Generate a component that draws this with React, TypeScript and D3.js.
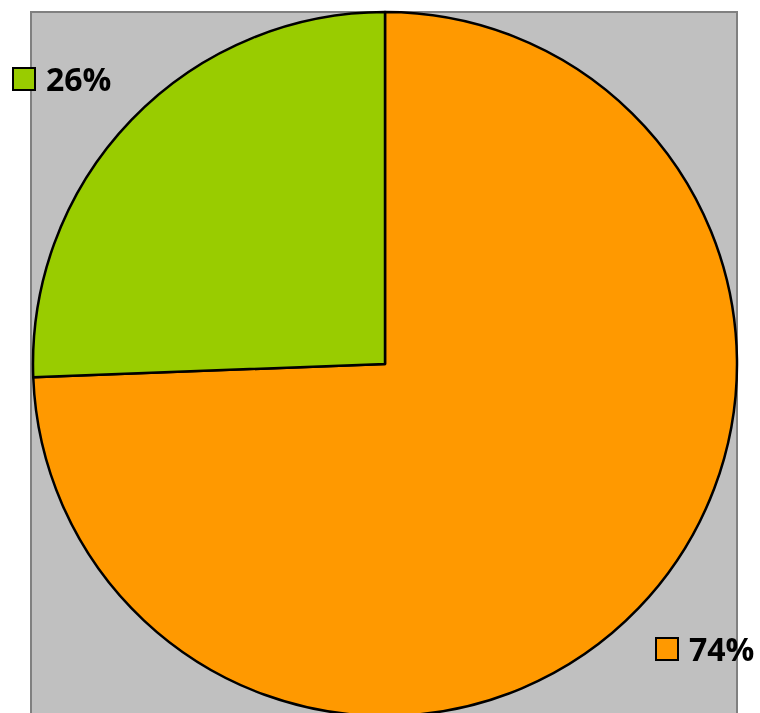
import React, { useEffect, useRef } from 'react';
import * as d3 from 'd3';

// slices (orange first, clockwise from 12 o'clock)
const categories = ['A', 'B'];
const values = [74.4, 25.6];
const colors = ['#FF9900', '#99CC00'];
const labelPos = [
  [655, 637],
  [12, 67],
];

export default function App() {
  const ref = useRef<SVGSVGElement>(null);

  useEffect(() => {
    const width = 760;
    const height = 713;
    const cx = 385;
    const cy = 364;
    const radius = 352;

    const svg = d3.select(ref.current)
      .attr('width', width)
      .attr('height', height);
    svg.selectAll('*').remove();

    svg.append('rect')
      .attr('x', 31)
      .attr('y', 12)
      .attr('width', 706)
      .attr('height', height + 20)
      .attr('fill', '#C0C0C0')
      .attr('stroke', '#808080')
      .attr('stroke-width', 2);

    const pie = d3.pie<number>().sort(null).value(d => d);
    const arcs = pie(values);
    const arc = d3.arc<d3.PieArcDatum<number>>().innerRadius(0).outerRadius(radius);

    svg.append('g')
      .attr('transform', `translate(${cx},${cy})`)
      .selectAll('path')
      .data(arcs)
      .join('path')
        .attr('d', arc)
        .attr('fill', (d, i) => colors[i])
        .attr('stroke', '#000')
        .attr('stroke-width', 2.5)
        .attr('stroke-linejoin', 'round');

    const total = d3.sum(values);
    const labels = svg.append('g')
      .selectAll('g')
      .data(categories)
      .join('g')
        .attr('transform', (d, i) => `translate(${labelPos[i][0]},${labelPos[i][1]})`);

    labels.append('rect')
      .attr('x', 1)
      .attr('y', 1)
      .attr('width', 22)
      .attr('height', 22)
      .attr('fill', (d, i) => colors[i])
      .attr('stroke', '#000')
      .attr('stroke-width', 2);

    labels.append('text')
      .attr('x', 34)
      .attr('y', 24)
      .attr('font-family', '"Open Sans", sans-serif')
      .attr('font-weight', 'bold')
      .attr('font-size', 32)
      .attr('fill', '#000')
      .text((d, i) => `${Math.round((values[i] / total) * 100)}%`);
  }, []);

  return <svg ref={ref} style={{ position: 'fixed', left: 0, top: 0, display: 'block' }} />;
}
